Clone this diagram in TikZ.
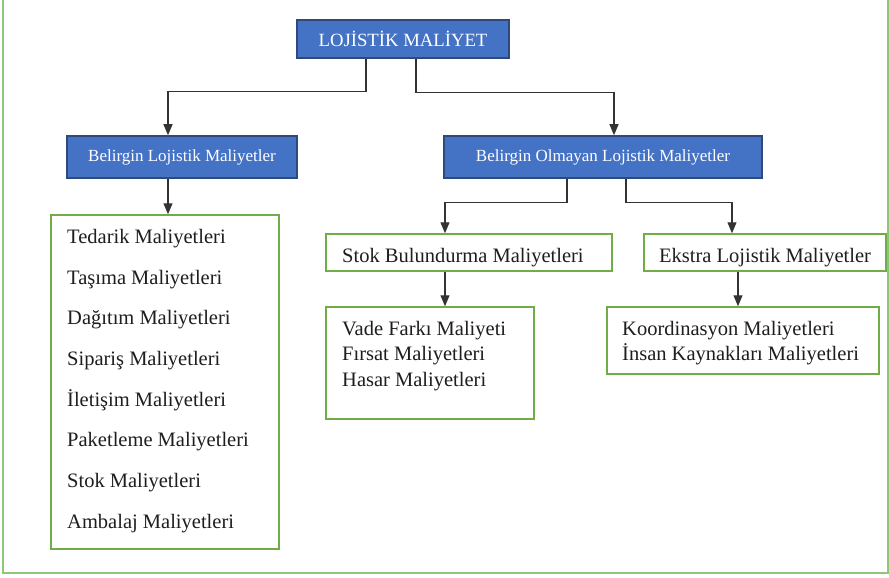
\documentclass[tikz,border=0pt]{standalone}
\usepackage{fontspec}
\setmainfont{Liberation Serif}
\usetikzlibrary{arrows.meta,calc}
\definecolor{wblue}{HTML}{4472C4}
\definecolor{wblueedge}{HTML}{2F4A7A}
\definecolor{wgreen}{HTML}{70AD47}
\definecolor{framegreen}{HTML}{8CC878}
\definecolor{txt}{HTML}{1E1E1E}
\tikzset{
  bluebox/.style={draw=wblueedge, line width=1.6pt, fill=wblue, text=white, inner sep=0pt},
  greenbox/.style={draw=wgreen, line width=1.5pt, fill=white, inner sep=0pt},
  item/.style={anchor=base west, inner sep=0pt, text=txt, font=\fontsize{20.5}{25.5}\selectfont},
  conn/.style={draw=black!80, line width=1.1pt, -{Triangle[width=9pt,length=11pt]}},
}
\begin{document}
\begin{tikzpicture}[x=1pt,y=-1pt]
\useasboundingbox (0,0) rectangle (889,578);
% outer frame
\draw[framegreen, line width=2.5pt] (3,-5) -- (3,573) -- (888,573) -- (888,-5);

% blue boxes
\node[bluebox, minimum width=212pt, minimum height=38pt, font=\fontsize{18.7}{22}\selectfont] (top) at (403,39) {LOJİSTİK MALİYET};
\node[bluebox, minimum width=230pt, minimum height=42pt, font=\fontsize{17}{20}\selectfont] (b1) at (182,157) {Belirgin Lojistik Maliyetler};
\node[bluebox, minimum width=318pt, minimum height=42pt, font=\fontsize{17}{20}\selectfont] (b2) at (603,157) {Belirgin Olmayan Lojistik Maliyetler};

% green boxes
\node[greenbox, minimum width=228pt, minimum height=334pt] (gL) at (165,382) {};
\node[greenbox, minimum width=286pt, minimum height=37pt] (gS) at (469,252.5) {};
\node[greenbox, minimum width=242pt, minimum height=37pt] (gE) at (765,252.5) {};
\node[greenbox, minimum width=208pt, minimum height=112pt] (gS2) at (430,363) {};
\node[greenbox, minimum width=272pt, minimum height=67pt] (gE2) at (743,340.5) {};

% texts
\node[item] (t1) at (67,243) {Tedarik Maliyetleri};
\node[item] (t2) at (67,284) {Taşıma Maliyetleri};
\node[item] (t3) at (67,324.5) {Dağıtım Maliyetleri};
\node[item] (t4) at (67,365) {Sipariş Maliyetleri};
\node[item] (t5) at (67,406) {İletişim Maliyetleri};
\node[item] (t6) at (67,446.5) {Paketleme Maliyetleri};
\node[item] (t7) at (67,487) {Stok Maliyetleri};
\node[item] (t8) at (67,528) {Ambalaj Maliyetleri};

\node[item] (s0) at (342,262) {Stok Bulundurma Maliyetleri};
\node[item] (e0) at (659,262) {Ekstra Lojistik Maliyetler};

\node[item] (s1) at (342,335) {Vade Farkı Maliyeti};
\node[item] (s2) at (342,360.5) {Fırsat Maliyetleri};
\node[item] (s3) at (342,386) {Hasar Maliyetleri};

\node[item] (e1) at (622,335) {Koordinasyon Maliyetleri};
\node[item] (e2) at (622,360.5) {İnsan Kaynakları Maliyetleri};

% connectors
\draw[conn] ([xshift=-37pt]top.south) -- ++(0,33) -| ([xshift=-14pt]b1.north);
\draw[conn] ([xshift=13pt]top.south) -- ++(0,34) -| ([xshift=11pt]b2.north);
\draw[conn] ([xshift=-14pt]b1.south) -- ([xshift=-14pt]b1.south |- gL.north);
\draw[conn] ([xshift=-36pt]b2.south) -- ++(0,24) -| ([xshift=-24pt]gS.north);
\draw[conn] ([xshift=23pt]b2.south) -- ++(0,24) -| ([xshift=-33pt]gE.north);
\draw[conn] ([xshift=-24pt]gS.south) -- ([xshift=-24pt]gS.south |- gS2.north);
\draw[conn] ([xshift=-27pt]gE.south) -- ([xshift=-27pt]gE.south |- gE2.north);
\end{tikzpicture}
\end{document}
